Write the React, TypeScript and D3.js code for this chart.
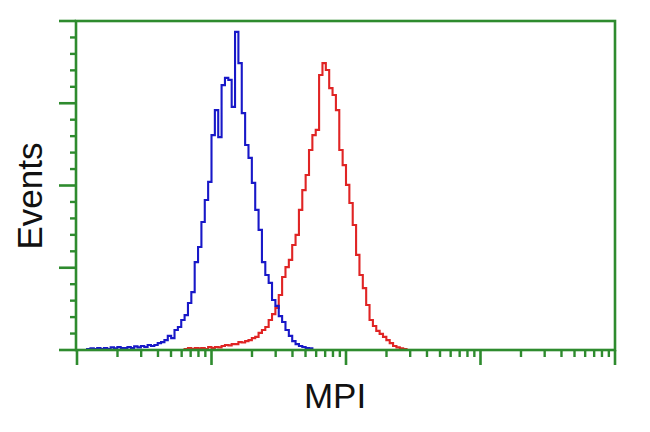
import React from "react";
import * as d3 from "d3";

// Histogram bins: equal width in log10 units
const BIN_WIDTH_DECADES = 0.025;

const blueStartBin = 3;
const blueCounts = [
  0.3, 0.5, 0.3, 0.6, 0.3, 0.6, 0.3, 0.8, 0.5, 0.9, 0.6, 0.6, 0.9, 0.6, 1.1, 0.8, 1.2, 0.9,
  1.5, 1.2, 1.5, 2.1, 2.4, 3.0, 4.3, 3.6, 6.1, 7.0, 9.1, 10.6, 14.3, 17.6, 26.7, 31.3, 38.9,
  45.6, 51.1, 65.3, 72.9, 64.7, 80.5, 82.7, 82.1, 73.9, 96.7, 87.2, 72.0, 62.3, 58.4, 50.8,
  42.6, 36.5, 26.7, 22.8, 20.4, 15.2, 13.4, 10.3, 8.5, 6.1, 4.3, 2.7, 1.8, 1.2, 0.9, 0.6, 0.5,
];

const redStartBin = 32;
const redCounts = [
  0.3, 0.6, 0.3, 0.6, 0.5, 0.6, 0.3, 0.9, 0.6, 0.9, 0.8, 1.2, 1.5, 1.4, 1.8, 1.8, 2.4, 2.3,
  2.7, 3.0, 3.6, 4.0, 5.2, 6.1, 7.0, 9.1, 10.9, 12.8, 16.7, 22.2, 25.2, 27.4, 31.9, 35.0,
  42.6, 48.6, 53.2, 60.8, 65.3, 66.9, 83.6, 87.2, 85.1, 79.6, 77.5, 72.9, 60.8, 56.2, 50.2,
  44.7, 38.0, 28.9, 22.8, 18.8, 13.7, 9.1, 7.3, 5.8, 4.9, 4.0, 3.0, 2.1, 1.2, 0.8, 0.5, 0.3,
];

const xDomain = [1, 10000];
const xMajorTicks = [1, 10, 100, 1000, 10000];
const yDomain = [0, 100];
const yMajorTicks = [0, 25, 50, 75, 100];
const yMinorStep = 5;

const xLabel = "MPI";
const yLabel = "Events";

const GREEN = "#2e8b2e";
const BLUE = "#1818c8";
const RED = "#e02424";

export default function App() {
  const left = 76, right = 615, top = 21, bottom = 350;
  const x = d3.scaleLog().domain(xDomain).range([77, 615]);
  const y = d3.scaleLinear().domain(yDomain).range([bottom, top]);

  const xMinor: number[] = [];
  for (let d = 0; d < xMajorTicks.length - 1; d++) {
    for (let m = 2; m <= 9; m++) xMinor.push(xMajorTicks[d] * m);
  }
  const yMinor: number[] = [];
  for (let v = yDomain[0]; v <= yDomain[1]; v += yMinorStep) {
    if (!yMajorTicks.includes(v)) yMinor.push(v);
  }

  const histPath = (start: number, counts: number[]) => {
    const pts: [number, number][] = [];
    const edge = (i: number) => Math.pow(10, i * BIN_WIDTH_DECADES);
    pts.push([x(edge(start)), y(0)]);
    counts.forEach((c, k) => {
      pts.push([x(edge(start + k)), y(c)]);
    });
    pts.push([x(edge(start + counts.length)), y(0)]);
    return d3.line().curve(d3.curveStepAfter)(pts) as string;
  };

  return (
    <div style={{ position: "absolute", left: 0, top: 0 }}>
      <svg width={650} height={432} style={{ display: "block", background: "#fff" }}>
        <path d={histPath(redStartBin, redCounts)} fill="none" stroke={RED} strokeWidth={2.1} />
        <path d={histPath(blueStartBin, blueCounts)} fill="none" stroke={BLUE} strokeWidth={2.1} />

        <rect x={left} y={top} width={right - left} height={bottom - top} fill="none" stroke={GREEN} strokeWidth={2.6} />

        {yMajorTicks.map((v) => (
          <line key={"ym" + v} x1={59} x2={left} y1={y(v)} y2={y(v)} stroke={GREEN} strokeWidth={2.6} />
        ))}
        {yMinor.map((v) => (
          <line key={"yn" + v} x1={70} x2={left} y1={y(v)} y2={y(v)} stroke={GREEN} strokeWidth={2.4} />
        ))}
        {xMajorTicks.map((v) => (
          <line key={"xm" + v} x1={x(v)} x2={x(v)} y1={bottom} y2={365} stroke={GREEN} strokeWidth={2.6} />
        ))}
        {xMinor.map((v) => (
          <line key={"xn" + v} x1={x(v)} x2={x(v)} y1={bottom} y2={357} stroke={GREEN} strokeWidth={2.4} />
        ))}

        <text x={335} y={408} textAnchor="middle" fontFamily="Liberation Sans, Arial, sans-serif" fontSize={35} fill="#111">
          {xLabel}
        </text>
        <text transform="translate(42,196) rotate(-90)" textAnchor="middle" fontFamily="Liberation Sans, Arial, sans-serif" fontSize={35} fill="#111">
          {yLabel}
        </text>
      </svg>
    </div>
  );
}
